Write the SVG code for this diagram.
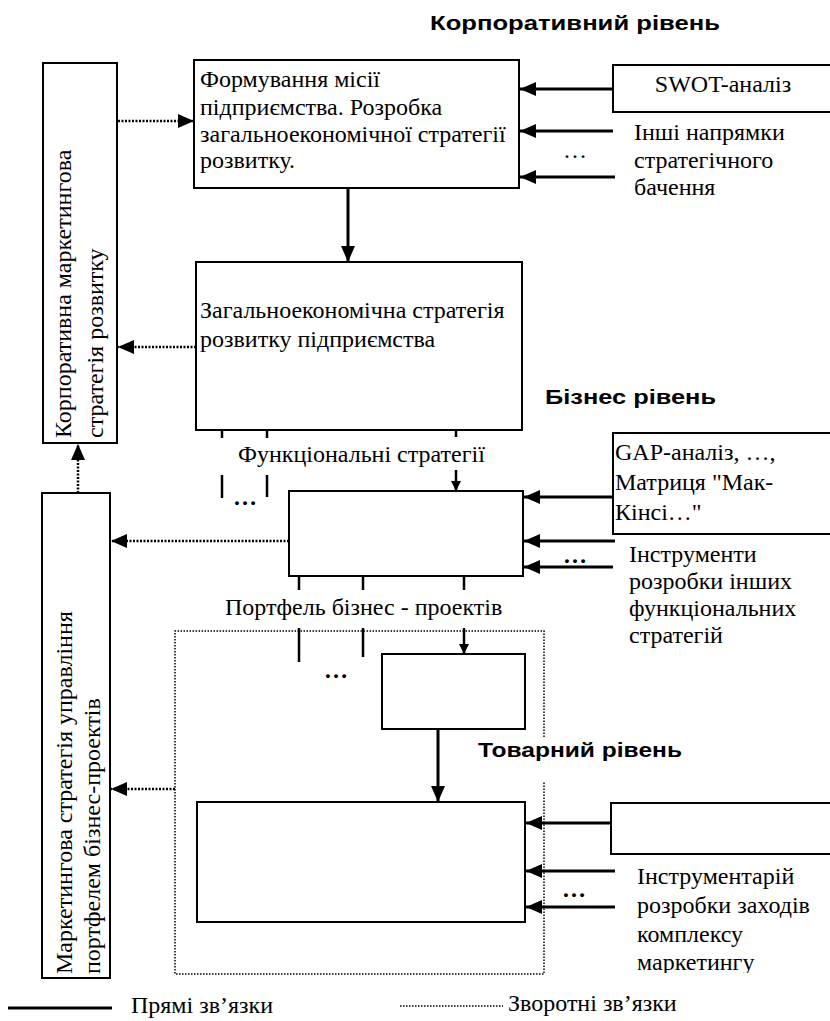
<svg xmlns="http://www.w3.org/2000/svg" width="830" height="1021" viewBox="0 0 830 1021">
  <style>
    .box { fill: #fff; stroke: #000; stroke-width: 2; }
    .solid { fill: none; stroke: #000; stroke-width: 3; }
    .tick { fill: none; stroke: #000; stroke-width: 2.5; }
    .fb { fill: none; stroke: #000; stroke-width: 2.5; stroke-dasharray: 2 1.5; }
    .frame { fill: none; stroke: #000; stroke-width: 1.5; stroke-dasharray: 1.5 1.5; }
    .t { font-family: "Liberation Serif", "Times New Roman", serif; font-size: 24px; fill: #000; }
    .h { font-family: "Liberation Sans", Arial, sans-serif; font-size: 21px; font-weight: bold; fill: #000; }
    .dots { font-family: "Liberation Serif", "Times New Roman", serif; font-size: 24px; font-weight: bold; fill: #000; }
  </style>
  <defs>
    <marker id="ah" viewBox="0 0 16 14" refX="16" refY="7" markerWidth="16" markerHeight="14" orient="auto" markerUnits="userSpaceOnUse">
      <path d="M0,0 L16,7 L0,14 Z" fill="#000"/>
    </marker>
    <marker id="ahs" viewBox="0 0 10 10" refX="10" refY="5" markerWidth="10" markerHeight="10" orient="auto" markerUnits="userSpaceOnUse">
      <path d="M0,0 L10,5 L0,10 Z" fill="#000"/>
    </marker>
    <clipPath id="clipTools">
      <rect x="600" y="860" width="230" height="113"/>
    </clipPath>
  </defs>

  <rect width="830" height="1021" fill="#fff"/>

  <!-- level headings -->
  <text class="h" x="430" y="30" textLength="290" lengthAdjust="spacingAndGlyphs">Корпоративний рівень</text>
  <text class="h" x="545" y="404" textLength="171" lengthAdjust="spacingAndGlyphs">Бізнес рівень</text>

  <!-- dashed boundary of the product level -->
  <g id="product-frame">
    <path class="frame" d="M544,737 V631 H175 V974 H544 V781"/>
  </g>

  <text class="h" x="478" y="757" textLength="204" lengthAdjust="spacingAndGlyphs">Товарний рівень</text>

  <!-- connectors -->
  <g id="connectors">
    <!-- direct links -->
    <line class="solid" x1="348" y1="188" x2="348" y2="262" marker-end="url(#ah)"/>
    <line class="solid" x1="613" y1="89" x2="520" y2="89" marker-end="url(#ah)"/>
    <line class="solid" x1="613" y1="131" x2="520" y2="131" marker-end="url(#ah)"/>
    <line class="solid" x1="615" y1="177" x2="520" y2="177" marker-end="url(#ah)"/>

    <line class="tick" x1="222" y1="430" x2="222" y2="438"/>
    <line class="tick" x1="267" y1="430" x2="267" y2="438"/>
    <line class="tick" x1="456" y1="430" x2="456" y2="437"/>
    <line class="tick" x1="222" y1="475" x2="222" y2="498"/>
    <line class="tick" x1="267" y1="475" x2="267" y2="497"/>
    <line class="tick" x1="456" y1="470" x2="456" y2="491" marker-end="url(#ahs)"/>

    <line class="solid" x1="613" y1="497" x2="524" y2="497" marker-end="url(#ah)"/>
    <line class="solid" x1="615" y1="541" x2="524" y2="541" marker-end="url(#ah)"/>
    <line class="solid" x1="613" y1="567" x2="524" y2="567" marker-end="url(#ah)"/>

    <line class="tick" x1="299" y1="576" x2="299" y2="590"/>
    <line class="tick" x1="363" y1="576" x2="363" y2="590"/>
    <line class="tick" x1="464" y1="576" x2="464" y2="590"/>
    <line class="tick" x1="299" y1="628" x2="299" y2="662"/>
    <line class="tick" x1="363" y1="628" x2="363" y2="657"/>
    <line class="tick" x1="464" y1="628" x2="464" y2="654" marker-end="url(#ahs)"/>

    <line class="solid" x1="438" y1="729" x2="438" y2="802" marker-end="url(#ah)"/>

    <line class="solid" x1="612" y1="823" x2="526" y2="823" marker-end="url(#ah)"/>
    <line class="solid" x1="615" y1="871" x2="526" y2="871" marker-end="url(#ah)"/>
    <line class="solid" x1="615" y1="907" x2="526" y2="907" marker-end="url(#ah)"/>

    <!-- feedback links -->
    <line class="fb" x1="118" y1="121" x2="194" y2="121" marker-end="url(#ah)"/>
    <line class="fb" x1="196" y1="347" x2="118" y2="347" marker-end="url(#ah)"/>
    <line class="fb" x1="78" y1="493" x2="78" y2="444" marker-end="url(#ah)"/>
    <line class="fb" x1="289" y1="541" x2="111" y2="541" marker-end="url(#ah)"/>
    <line class="fb" x1="175" y1="789" x2="111" y2="789" marker-end="url(#ah)"/>
  </g>

  <!-- corporate marketing strategy -->
  <g id="corp-marketing">
    <rect class="box" x="43" y="63" width="74" height="380"/>
    <g transform="rotate(-90)">
      <text class="t" x="-438" y="71">Корпоративна маркетингова</text>
      <text class="t" x="-438" y="103">стратегія розвитку</text>
    </g>
  </g>

  <!-- portfolio marketing strategy -->
  <g id="portfolio-marketing">
    <rect class="box" x="42" y="493" width="68" height="485"/>
    <g transform="rotate(-90)">
      <text class="t" x="-974" y="72">Маркетингова стратегія управління</text>
      <text class="t" x="-974" y="100">портфелем бізнес-проектів</text>
    </g>
  </g>

  <!-- mission -->
  <g id="mission">
    <rect class="box" x="194" y="60" width="325" height="128"/>
    <text class="t" x="200" y="87">Формування місії</text>
    <text class="t" x="200" y="115">підприємства. Розробка</text>
    <text class="t" x="200" y="142">загальноекономічної стратегії</text>
    <text class="t" x="200" y="168">розвитку.</text>
  </g>

  <!-- general economic strategy -->
  <g id="general-strategy">
    <rect class="box" x="196" y="262" width="326" height="168"/>
    <text class="t" x="200" y="318">Загальноекономічна стратегія</text>
    <text class="t" x="200" y="347">розвитку підприємства</text>
  </g>

  <g id="swot">
    <rect class="box" x="613" y="65" width="222" height="47"/>
    <text class="t" x="723" y="92" text-anchor="middle">SWOT-аналіз</text>
  </g>

  <g id="other-vision">
    <text class="t" x="634" y="140">Інші напрямки</text>
    <text class="t" x="634" y="168">стратегічного</text>
    <text class="t" x="634" y="195">бачення</text>
    <text class="t" x="575" y="158" text-anchor="middle">…</text>
  </g>

  <g id="functional-label">
    <text class="t" x="238" y="462">Функціональні стратегії</text>
    <text class="dots" x="245" y="505" text-anchor="middle">…</text>
  </g>

  <!-- business level -->
  <g id="business">
    <rect class="box" x="289" y="491" width="234" height="85"/>
  </g>

  <g id="gap">
    <rect class="box" x="613" y="433" width="222" height="101"/>
    <text class="t" x="615" y="460">GAP-аналіз, …,</text>
    <text class="t" x="615" y="490">Матриця "Мак-</text>
    <text class="t" x="615" y="520">Кінсі…"</text>
  </g>

  <g id="functional-tools">
    <text class="dots" x="575" y="563" text-anchor="middle">…</text>
    <text class="t" x="629" y="562">Інструменти</text>
    <text class="t" x="629" y="589">розробки інших</text>
    <text class="t" x="629" y="616">функціональних</text>
    <text class="t" x="629" y="643">стратегій</text>
  </g>

  <g id="portfolio-label">
    <text class="t" x="225" y="615">Портфель бізнес - проектів</text>
    <text class="dots" x="336" y="678" text-anchor="middle">…</text>
  </g>

  <!-- product level -->
  <g id="project">
    <rect class="box" x="382" y="654" width="143" height="75"/>
  </g>

  <g id="product">
    <rect class="box" x="197" y="802" width="328" height="120"/>
  </g>

  <g id="product-input">
    <rect class="box" x="611" y="803" width="224" height="51"/>
  </g>

  <g id="marketing-mix-tools">
    <text class="dots" x="574" y="897" text-anchor="middle">…</text>
    <g clip-path="url(#clipTools)">
      <text class="t" x="637" y="884">Інструментарій</text>
      <text class="t" x="637" y="913">розробки заходів</text>
      <text class="t" x="637" y="942">комплексу</text>
      <text class="t" x="637" y="970">маркетингу</text>
    </g>
  </g>

  <!-- legend -->
  <g id="legend">
    <line class="solid" x1="8" y1="1008" x2="112" y2="1008"/>
    <text class="t" x="131" y="1013">Прямі зв’язки</text>
    <line class="frame" x1="400" y1="1006" x2="503" y2="1006"/>
    <text class="t" x="508" y="1011">Зворотні зв’язки</text>
  </g>
</svg>
